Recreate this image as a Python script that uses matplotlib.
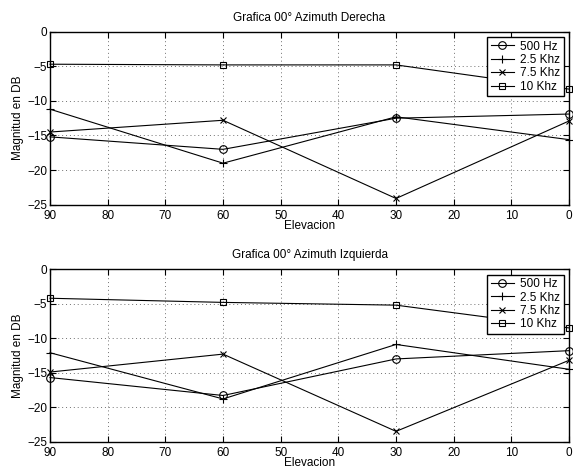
import matplotlib
matplotlib.use("Agg")
import matplotlib.pyplot as plt

plt.rcParams["font.family"] = ["Liberation Sans", "DejaVu Sans"]
plt.rcParams["font.size"] = 8.5

elevacion = [90, 60, 30, 0]
series_labels = ["500 Hz", "2.5 Khz", "7.5 Khz", "10 Khz"]
markers = ["o", "+", "x", "s"]
msizes = [5.5, 6, 4.5, 5]

# Azimuth derecha
derecha_500 = [-15.2, -17.0, -12.5, -11.9]
derecha_2k5 = [-11.2, -19.0, -12.3, -15.6]
derecha_7k5 = [-14.5, -12.8, -24.1, -12.9]
derecha_10k = [-4.7, -4.8, -4.8, -8.3]

# Azimuth izquierda
izquierda_500 = [-15.7, -18.3, -13.0, -11.8]
izquierda_2k5 = [-12.1, -18.8, -10.9, -14.5]
izquierda_7k5 = [-14.9, -12.3, -23.5, -13.2]
izquierda_10k = [-4.2, -4.8, -5.2, -8.5]

titles = ["Grafica 00° Azimuth Derecha", "Grafica 00° Azimuth Izquierda"]
datos = [
    [derecha_500, derecha_2k5, derecha_7k5, derecha_10k],
    [izquierda_500, izquierda_2k5, izquierda_7k5, izquierda_10k],
]

fig = plt.figure(figsize=(5.73, 4.68), dpi=100)
rects = [[0.0873, 0.5626, 0.9058, 0.3697], [0.0873, 0.0562, 0.9058, 0.3684]]

for rect, title, series in zip(rects, titles, datos):
    ax = fig.add_axes(rect)
    for vals, lab, m, ms in zip(series, series_labels, markers, msizes):
        ax.plot(elevacion, vals, color="black", linewidth=0.8, marker=m,
                markersize=ms, markerfacecolor="none", markeredgecolor="black",
                markeredgewidth=0.8, label=lab, clip_on=False)
    ax.set_xlim(90, 0)
    ax.set_ylim(-25, 0)
    ax.set_xticks(range(90, -1, -10))
    ax.set_yticks(range(-25, 1, 5))
    ax.grid(True, linestyle=(0, (1, 3)), color="#707070", linewidth=0.7)
    ax.tick_params(direction="in", top=True, right=True, length=4, width=0.8)
    ax.tick_params(axis="x", pad=4)
    ax.tick_params(axis="y", pad=2)
    for sp in ax.spines.values():
        sp.set_linewidth(1.0)
    ax.set_title(title, fontsize=8.5, pad=8)
    ax.set_xlabel("Elevacion", labelpad=-1.5)
    ax.set_ylabel("Magnitud en DB", labelpad=2)
    leg = ax.legend(loc="upper right", fancybox=False, framealpha=1,
                    edgecolor="black", borderpad=0.3, labelspacing=0.12,
                    handlelength=2.0, handletextpad=0.5, borderaxespad=0.45,
                    fontsize=8.5)
    leg.get_frame().set_linewidth(1.0)

fig.savefig("out.png", dpi=100)
